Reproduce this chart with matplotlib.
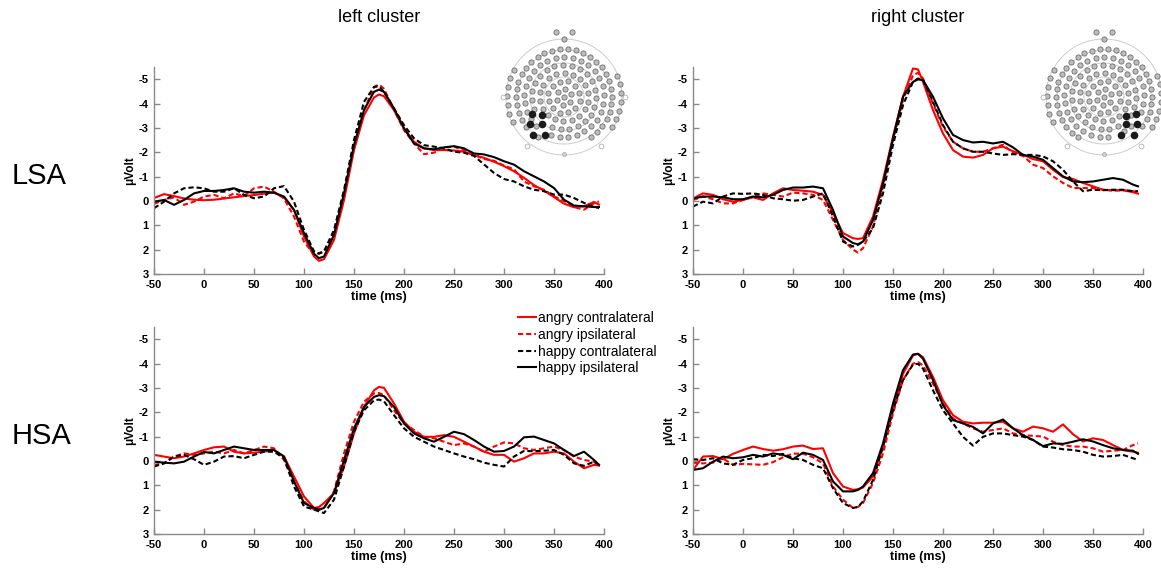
import matplotlib
matplotlib.use('Agg')
import matplotlib.pyplot as plt
import numpy as np

plt.rcParams['font.family'] = ['Liberation Sans', 'DejaVu Sans']
plt.rcParams['axes.unicode_minus'] = False

# time axis (ms) shared by all waveforms
time_ms = [-50, -40, -30, -20, -10, 0, 10, 20, 30, 40, 50, 60, 70, 80, 90,
           100, 110, 115, 120, 130, 140, 150, 160, 170, 175, 180, 190, 200,
           210, 220, 230, 240, 250, 260, 270, 280, 290, 300, 310, 320, 330,
           340, 350, 360, 370, 380, 390, 395]

# LSA, left cluster
lsa_left_angry_contra = [-0.12, -0.28, -0.20, -0.10, -0.05, -0.03, -0.05, -0.10, -0.15, -0.20,
                         -0.24, -0.30, -0.34, -0.15, 0.37, 1.46, 2.28, 2.46, 2.39, 1.60,
                         -0.04, -2.09, -3.52, -4.25, -4.37, -4.30, -3.73, -2.98, -2.43, -2.16,
                         -2.09, -2.09, -2.07, -2.02, -1.88, -1.77, -1.61, -1.43, -1.22, -0.95,
                         -0.65, -0.42, -0.16, 0.11, 0.26, 0.22, 0.04, 0.15]
lsa_left_angry_ipsi = [0.12, -0.04, -0.15, 0.16, 0.03, -0.18, -0.25, -0.11, -0.31, -0.20,
                       -0.52, -0.59, -0.38, -0.10, 0.64, 1.67, 2.21, 2.14, 2.07, 1.32,
                       -0.31, -2.36, -3.73, -4.68, -4.78, -4.61, -3.73, -2.91, -2.36, -1.92,
                       -1.98, -2.20, -2.23, -2.07, -1.90, -1.72, -1.65, -1.45, -1.30, -0.80,
                       -0.60, -0.46, -0.19, 0.00, 0.25, 0.36, 0.10, 0.02]
lsa_left_happy_contra = [0.30, 0.03, -0.31, -0.52, -0.56, -0.52, -0.38, -0.38, -0.52, -0.25,
                         -0.11, -0.18, -0.52, -0.61, 0.03, 1.19, 2.07, 2.17, 2.07, 1.19,
                         -0.45, -2.50, -4.07, -4.68, -4.71, -4.48, -3.80, -3.11, -2.57, -2.29,
                         -2.23, -2.16, -2.02, -1.98, -1.85, -1.50, -1.15, -0.90, -0.80, -0.60,
                         -0.46, -0.40, -0.26, -0.26, -0.12, 0.08, 0.25, 0.29]
lsa_left_happy_ipsi = [0.03, -0.04, 0.16, -0.04, -0.31, -0.41, -0.41, -0.45, -0.52, -0.38,
                       -0.34, -0.38, -0.34, -0.18, 0.37, 1.32, 2.17, 2.35, 2.28, 1.39,
                       -0.31, -2.29, -3.73, -4.48, -4.57, -4.48, -3.80, -2.98, -2.36, -2.16,
                       -2.12, -2.20, -2.25, -2.16, -1.95, -1.91, -1.80, -1.63, -1.49, -1.22,
                       -1.01, -0.80, -0.53, -0.05, 0.19, 0.22, 0.25, 0.25]

# LSA, right cluster
lsa_right_angry_contra = [-0.10, -0.31, -0.25, -0.07, 0.03, -0.04, -0.15, -0.04, -0.31, -0.52,
                          -0.45, -0.42, -0.38, -0.25, 0.50, 1.32, 1.53, 1.56, 1.53, 0.64,
                          -0.86, -2.64, -4.28, -5.44, -5.40, -4.89, -3.73, -2.77, -2.09, -1.82,
                          -1.78, -1.89, -2.16, -2.23, -2.04, -1.90, -1.72, -1.63, -1.28, -0.98,
                          -0.90, -0.74, -0.60, -0.46, -0.44, -0.44, -0.36, -0.30]
lsa_right_angry_ipsi = [-0.04, -0.18, -0.07, 0.10, 0.10, -0.04, -0.18, -0.31, -0.25, -0.18,
                        -0.34, -0.31, -0.25, -0.04, 0.78, 1.60, 2.00, 2.12, 1.94, 1.05,
                        -0.59, -2.50, -4.14, -5.16, -5.26, -5.03, -4.00, -3.05, -2.43, -2.16,
                        -2.02, -2.02, -2.16, -2.31, -1.97, -1.85, -1.49, -1.35, -1.01, -0.74,
                        -0.53, -0.53, -0.53, -0.46, -0.42, -0.44, -0.40, -0.36]
lsa_right_happy_contra = [0.23, 0.03, 0.10, -0.18, -0.31, -0.29, -0.31, -0.25, -0.11, -0.07,
                          -0.01, -0.04, -0.18, -0.31, 0.64, 1.67, 1.87, 1.80, 1.67, 1.12,
                          -0.31, -2.30, -3.93, -4.89, -5.03, -4.96, -4.07, -3.11, -2.43, -2.16,
                          -2.02, -2.02, -1.95, -1.89, -1.92, -1.89, -1.89, -1.83, -1.63, -1.28,
                          -0.80, -0.40, -0.46, -0.44, -0.46, -0.46, -0.40, -0.40]
lsa_right_happy_ipsi = [-0.10, -0.18, -0.18, -0.15, -0.07, -0.07, -0.18, -0.15, -0.25, -0.45,
                        -0.55, -0.55, -0.59, -0.52, 0.37, 1.46, 1.73, 1.78, 1.67, 0.78,
                        -0.72, -2.57, -4.28, -4.89, -4.99, -4.96, -4.28, -3.39, -2.71, -2.50,
                        -2.40, -2.43, -2.36, -2.43, -2.20, -1.89, -1.82, -1.69, -1.35, -1.01,
                        -0.80, -0.77, -0.80, -0.87, -0.94, -0.87, -0.67, -0.60]

# HSA, left cluster
hsa_left_angry_contra = [-0.25, -0.18, -0.11, -0.18, -0.31, -0.45, -0.56, -0.59, -0.38, -0.31,
                         -0.34, -0.38, -0.45, -0.18, 0.64, 1.46, 1.93, 1.89, 1.73, 1.32,
                         0.23, -1.13, -2.22, -2.90, -3.04, -3.00, -2.36, -1.61, -1.20, -0.99,
                         -0.99, -1.06, -0.99, -0.79, -0.59, -0.38, -0.25, -0.25, 0.03, -0.11,
                         -0.31, -0.31, -0.38, -0.31, 0.03, 0.30, 0.16, 0.19]
hsa_left_angry_ipsi = [0.16, 0.10, -0.18, -0.31, -0.25, -0.31, -0.38, -0.31, -0.45, -0.31,
                       -0.45, -0.59, -0.52, -0.04, 0.84, 1.66, 2.00, 2.00, 1.93, 1.25,
                       -0.31, -1.61, -2.43, -2.77, -2.79, -2.70, -2.08, -1.54, -1.27, -0.99,
                       -0.93, -0.79, -0.65, -0.72, -0.59, -0.38, -0.59, -0.76, -0.72, -0.52,
                       -0.45, -0.52, -0.59, -0.45, -0.18, -0.04, 0.03, 0.16]
hsa_left_happy_contra = [0.23, 0.10, -0.18, -0.25, -0.07, 0.16, 0.03, -0.18, -0.20, -0.11,
                         -0.25, -0.38, -0.38, -0.11, 1.05, 1.87, 2.00, 2.07, 2.14, 1.59,
                         0.23, -1.20, -2.08, -2.49, -2.52, -2.45, -1.88, -1.34, -0.99, -0.79,
                         -0.59, -0.45, -0.31, -0.18, -0.07, 0.07, 0.16, 0.23, -0.18, -0.41,
                         -0.40, -0.42, -0.45, -0.25, 0.10, 0.20, 0.03, 0.16]
hsa_left_happy_ipsi = [0.03, 0.07, 0.10, 0.03, -0.18, -0.37, -0.31, -0.45, -0.59, -0.52,
                       -0.45, -0.45, -0.45, -0.18, 0.84, 1.73, 1.93, 2.00, 1.93, 1.32,
                       -0.04, -1.34, -2.22, -2.63, -2.70, -2.66, -2.22, -1.54, -1.13, -0.93,
                       -0.79, -0.99, -1.20, -1.10, -0.86, -0.59, -0.38, -0.41, -0.59, -0.97,
                       -1.00, -0.86, -0.72, -0.45, -0.20, -0.38, -0.04, 0.16]

# HSA, right cluster
hsa_right_angry_contra = [0.37, -0.18, -0.20, -0.07, -0.29, -0.45, -0.59, -0.49, -0.42, -0.48,
                          -0.59, -0.63, -0.49, -0.52, 0.50, 1.05, 1.19, 1.16, 1.09, 0.64,
                          -0.59, -2.08, -3.58, -4.33, -4.40, -4.26, -3.45, -2.49, -1.88, -1.61,
                          -1.54, -1.57, -1.57, -1.61, -1.34, -1.20, -1.41, -1.34, -1.20, -1.50,
                          -1.10, -0.80, -0.93, -0.86, -0.65, -0.45, -0.38, -0.34]
hsa_right_angry_ipsi = [0.07, 0.10, 0.07, -0.10, 0.16, 0.12, 0.14, 0.16, 0.05, -0.15,
                        -0.30, -0.30, -0.15, 0.10, 1.05, 1.59, 1.93, 1.89, 1.73, 0.91,
                        -0.31, -1.95, -3.32, -3.99, -4.06, -3.92, -3.17, -2.36, -1.74, -1.54,
                        -1.34, -1.20, -1.27, -1.34, -1.13, -1.06, -1.03, -1.00, -0.79, -0.65,
                        -0.59, -0.59, -0.52, -0.38, -0.42, -0.45, -0.65, -0.72]
hsa_right_happy_contra = [-0.07, -0.04, -0.11, 0.10, 0.16, -0.04, -0.11, -0.25, -0.20, -0.29,
                          -0.11, -0.04, 0.16, 0.30, 1.12, 1.73, 1.93, 1.89, 1.66, 0.78,
                          -0.59, -2.08, -3.32, -3.96, -3.99, -3.79, -2.90, -2.08, -1.54, -0.99,
                          -0.63, -0.99, -1.13, -1.13, -1.06, -1.00, -0.86, -0.59, -0.55, -0.48,
                          -0.45, -0.38, -0.25, -0.18, -0.20, -0.25, -0.11, -0.04]
hsa_right_happy_ipsi = [0.37, 0.30, 0.03, -0.18, -0.11, -0.15, -0.25, -0.18, -0.31, -0.25,
                        -0.07, -0.34, -0.25, -0.04, 0.84, 1.25, 1.25, 1.19, 1.05, 0.50,
                        -0.72, -2.36, -3.73, -4.37, -4.40, -4.20, -3.32, -2.29, -1.68, -1.54,
                        -1.40, -1.13, -1.54, -1.70, -1.34, -1.06, -0.86, -0.61, -0.72, -0.70,
                        -0.79, -0.89, -0.80, -0.65, -0.52, -0.45, -0.42, -0.29]

condition_labels = ['angry contralateral', 'angry ipsilateral',
                    'happy contralateral', 'happy ipsilateral']
cluster_titles = ['left cluster', 'right cluster']
group_labels = ['LSA', 'HSA']

x_ticks = [-50, 0, 50, 100, 150, 200, 250, 300, 350, 400]
y_ticks = [-5, -4, -3, -2, -1, 0, 1, 2, 3]

# highlighted electrodes of each cluster (offsets from head centre, px)
left_cluster_sites = [(-32, -17), (-22, -18), (-34, -27), (-22, -27), (-31, -38), (-19, -38)]
right_cluster_sites = [(22, -19), (32, -17), (22, -27), (33, -27), (17, -38), (30, -38)]

W, H = 1161, 571
fig = plt.figure(figsize=(W / 100, H / 100), dpi=100)
gray = '#8a8a8a'


def px_axes(x0, y0, x1, y1):
    return fig.add_axes([x0 / W, 1 - y1 / H, (x1 - x0) / W, (y1 - y0) / H])


def erp_panel(ax, series):
    styles = [('red', '-'), ('red', '--'), ('black', '--'), ('black', '-')]
    lines = []
    for y, (c, ls), lab in zip(series, styles, condition_labels):
        ln, = ax.plot(time_ms, y, color=c, lw=1.5, label=lab)
        if ls == '--':
            ln.set_dashes((2.5, 1.4))
        lines.append(ln)
    ax.set_xlim(-50, 400)
    ax.set_ylim(3, -5.5)
    ax.set_xticks(x_ticks)
    ax.set_yticks(y_ticks)
    for s in ['top', 'right']:
        ax.spines[s].set_visible(False)
    for s in ['left', 'bottom']:
        ax.spines[s].set_color(gray)
        ax.spines[s].set_linewidth(1)
    ax.tick_params(direction='in', length=4, width=1, color=gray, labelsize=8, pad=4)
    for lbl in ax.get_xticklabels() + ax.get_yticklabels():
        lbl.set_fontweight('bold')
    ax.set_xlabel('time (ms)', fontsize=9, labelpad=1, fontweight='bold')
    ax.set_ylabel('μVolt', fontsize=8.5, labelpad=2, fontweight='bold')
    ax.patch.set_alpha(0)
    return lines


def draw_head(cx, cy, marked):
    R = 70
    ax = fig.add_axes([(cx - R) / W, 1 - (cy + R) / H, 2 * R / W, 2 * R / H])
    ax.set_xlim(-R, R)
    ax.set_ylim(-R, R)
    ax.axis('off')
    t = np.linspace(0, 2 * np.pi, 200)
    for r in (20, 34, 47, 58):
        ax.plot(r * np.cos(t), r * np.sin(t), color='#cccccc', lw=0.7)
    pts = [(0.0, 0.0)]
    for k in range(1, 6):
        r = 8.0 * k
        n = int(round(2 * np.pi * r / 8.6))
        a = np.linspace(0, 2 * np.pi, n, endpoint=False) + 0.4 * k
        pts += list(zip(r * np.cos(a), r * np.sin(a)))
    for d in np.arange(0, 360, 9.5):
        if 245 < d < 295:
            continue
        ang = np.deg2rad(d)
        pts.append((48 * np.cos(ang), 48 * np.sin(ang)))
    for d in list(np.arange(152, 212, 9)) + list(np.arange(-32, 29, 9)):
        ang = np.deg2rad(d)
        pts.append((57 * np.cos(ang), 57 * np.sin(ang)))
    pts += [(-8, 65), (8, 65), (0, 58)]
    pts = [p for p in pts if min((p[0] - m[0]) ** 2 + (p[1] - m[1]) ** 2 for m in marked) > 20]
    xs, ys = zip(*pts)
    ax.scatter(xs, ys, s=14, facecolor='#bdbdbd', edgecolor='#6e6e6e', linewidths=0.6, zorder=3)
    mx, my = zip(*marked)
    ax.scatter(mx, my, s=20, facecolor='#1a1a1a', edgecolor='#1a1a1a', zorder=4)
    for d in (180, 233, 307, 0):
        ang = np.deg2rad(d)
        ax.scatter([61 * np.cos(ang)], [61 * np.sin(ang)], s=12, facecolor='white',
                   edgecolor='#b0b0b0', linewidths=0.6, zorder=4)
    ax.scatter([0], [-57], s=8, facecolor='#d0d0d0', edgecolor='#a0a0a0', linewidths=0.5, zorder=4)


ax_a = px_axes(154, 67, 604, 274)
erp_panel(ax_a, [lsa_left_angry_contra, lsa_left_angry_ipsi, lsa_left_happy_contra, lsa_left_happy_ipsi])
ax_b = px_axes(693, 67, 1143, 274)
erp_panel(ax_b, [lsa_right_angry_contra, lsa_right_angry_ipsi, lsa_right_happy_contra, lsa_right_happy_ipsi])
ax_c = px_axes(154, 327, 604, 534)
handles = erp_panel(ax_c, [hsa_left_angry_contra, hsa_left_angry_ipsi, hsa_left_happy_contra, hsa_left_happy_ipsi])
ax_d = px_axes(693, 327, 1143, 534)
erp_panel(ax_d, [hsa_right_angry_contra, hsa_right_angry_ipsi, hsa_right_happy_contra, hsa_right_happy_ipsi])

fig.text(379 / W, 1 - 18 / H, cluster_titles[0], fontsize=13, ha='center', va='center')
fig.text(918 / W, 1 - 18 / H, cluster_titles[1], fontsize=13, ha='center', va='center')
fig.text(12 / W, 1 - 176 / H, group_labels[0], fontsize=21, ha='left', va='center')
fig.text(12 / W, 1 - 436 / H, group_labels[1], fontsize=21, ha='left', va='center')

fig.legend(handles, condition_labels, loc='upper left', bbox_to_anchor=(518 / W, 1 - 311 / H),
           frameon=False, fontsize=10, handlelength=1.3, handletextpad=0.15,
           labelspacing=0.2, borderpad=0, borderaxespad=0)

draw_head(564, 97, left_cluster_sites)
draw_head(1104, 97, right_cluster_sites)

fig.savefig('out.png', dpi=100)
